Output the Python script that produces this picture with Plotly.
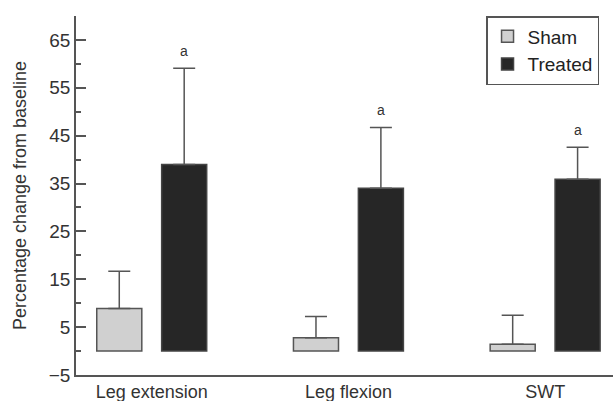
import plotly.graph_objects as go

categories = ["Leg extension", "Leg flexion", "SWT"]
sham_mean = [8.9, 2.8, 1.4]
sham_err = [7.8, 4.4, 6.1]
treated_mean = [39.0, 34.0, 35.9]
treated_err = [20.1, 12.7, 6.7]
sig_labels = ["a", "a", "a"]

FONT = "Liberation Sans, Arial, sans-serif"
AX = "#555555"

fig = go.Figure()
fig.add_trace(go.Bar(
    name="Sham", x=categories, y=sham_mean,
    marker=dict(color="#d0d0d0", line=dict(color=AX, width=1.5)),
    error_y=dict(type="data", symmetric=False, array=sham_err,
                 arrayminus=[0] * len(sham_err), color=AX, thickness=1.5, width=11),
))
fig.add_trace(go.Bar(
    name="Treated", x=categories, y=treated_mean,
    marker=dict(color="#262626", line=dict(color="#444444", width=1.5)),
    error_y=dict(type="data", symmetric=False, array=treated_err,
                 arrayminus=[0] * len(treated_err), color=AX, thickness=1.5, width=11),
))

for cat, m, e, lab in zip(categories, treated_mean, treated_err, sig_labels):
    fig.add_annotation(x=cat, y=m + e + 3.6, text=lab, showarrow=False,
                       xshift=32.5, font=dict(family=FONT, size=14, color="#333"))

fig.update_layout(
    width=613, height=401,
    margin=dict(l=76, r=0, t=16, b=26),
    paper_bgcolor="white", plot_bgcolor="white",
    barmode="group", bargap=0.34, bargroupgap=0.306,
    font=dict(family=FONT, color="#333"),
    showlegend=True,
    legend=dict(x=0.974, xanchor="right", y=1, yanchor="top",
                bordercolor=AX, borderwidth=1.5, bgcolor="white",
                font=dict(family=FONT, size=19, color="#222"),
                tracegroupgap=0, itemwidth=30),
)
fig.update_xaxes(
    range=[-0.385, 2.345], showline=True, linecolor=AX, linewidth=1.5,
    ticks="", showgrid=False, zeroline=False,
    tickfont=dict(family=FONT, size=18, color="#333"),
)
fig.update_yaxes(
    range=[-5, 70], showline=True, linecolor=AX, linewidth=1.5,
    showgrid=False, zeroline=False,
    tick0=-5, dtick=10, ticks="inside", ticklen=10, tickwidth=1.5, tickcolor=AX,
    minor=dict(tick0=0, dtick=10, ticks="inside", ticklen=5, tickwidth=1.5, tickcolor=AX),
    tickfont=dict(family=FONT, size=19, color="#333"),
    title=dict(text="Percentage change from baseline",
               font=dict(family=FONT, size=18, color="#333"), standoff=17),
)

fig.write_html("out.html")
